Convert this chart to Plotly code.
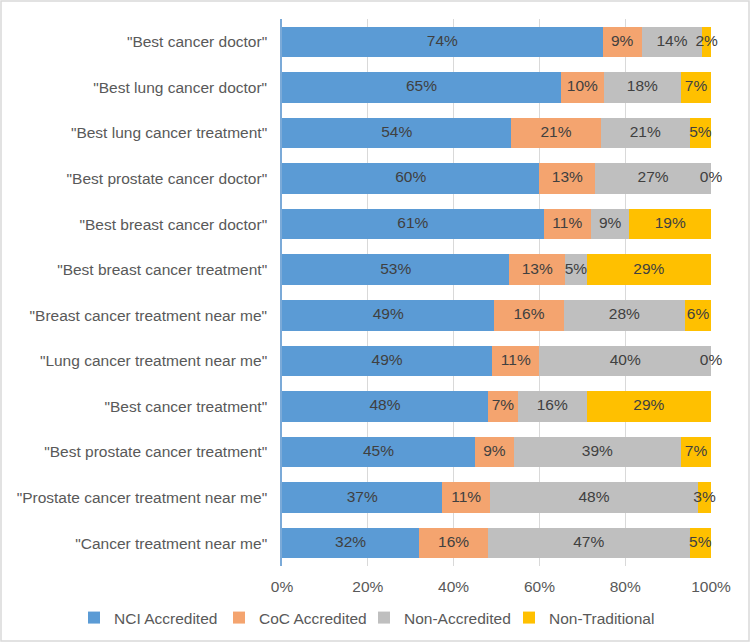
import plotly.graph_objects as go

categories = [
    '"Best cancer doctor"',
    '"Best lung cancer doctor"',
    '"Best lung cancer treatment"',
    '"Best prostate cancer doctor"',
    '"Best breast cancer doctor"',
    '"Best breast cancer treatment"',
    '"Breast cancer treatment near me"',
    '"Lung cancer treatment near me"',
    '"Best cancer treatment"',
    '"Best prostate cancer treatment"',
    '"Prostate cancer treatment near me"',
    '"Cancer treatment near me"',
]
nci = [74, 65, 54, 60, 61, 53, 49, 49, 48, 45, 37, 32]
coc = [9, 10, 21, 13, 11, 13, 16, 11, 7, 9, 11, 16]
non_acc = [14, 18, 21, 27, 9, 5, 28, 40, 16, 39, 48, 47]
non_trad = [2, 7, 5, 0, 19, 29, 6, 0, 29, 7, 3, 5]

series = [
    ("NCI Accredited", nci, "#5B9BD5"),
    ("CoC Accredited", coc, "#F4A46F"),
    ("Non-Accredited", non_acc, "#BFBFBF"),
    ("Non-Traditional", non_trad, "#FFC000"),
]
x_ticks = [0, 20, 40, 60, 80, 100]

FONT = "Liberation Sans, Arial, sans-serif"
FS = 15.5
TXT = "#404040"

W, H = 750, 642
L, R, T, B = 282, 39, 19, 76

fig = go.Figure()
for name, vals, color in series:
    fig.add_trace(go.Bar(
        y=categories, x=vals, name=name, orientation="h",
        marker=dict(color=color, line=dict(width=0)),
        hoverinfo="skip",
    ))

# data labels: centred on each (normalised) segment
lab_y, lab_x, lab_t = [], [], []
for i, cat in enumerate(categories):
    total = sum(s[1][i] for s in series)
    cum = 0
    for name, vals, color in series:
        v = vals[i]
        lab_y.append(cat)
        lab_x.append((cum + v / 2) / total * 100)
        lab_t.append(f"{v}%")
        cum += v
fig.add_trace(go.Scatter(
    y=lab_y, x=lab_x, text=lab_t, mode="text", showlegend=False,
    textposition="middle center", cliponaxis=False,
    textfont=dict(family=FONT, size=FS, color=TXT), hoverinfo="skip",
))

pw = W - L - R
ph = H - T - B
n = len(categories)
fig.update_layout(
    width=W, height=H,
    margin=dict(l=L, r=R, t=T, b=B, pad=0, autoexpand=False),
    barmode="stack", barnorm="percent", bargap=0.33,
    paper_bgcolor="white", plot_bgcolor="white",
    font=dict(family=FONT, size=FS, color="#595959"),
    xaxis=dict(
        range=[0, 100], tickvals=x_ticks, ticktext=[f"{v}%" for v in x_ticks],
        showgrid=True, gridcolor="#D9D9D9", gridwidth=1, automargin=False,
        zeroline=False, showline=False, ticks="", ticklabelstandoff=9,
        tickfont=dict(family=FONT, size=FS, color="#595959"),
        fixedrange=True,
    ),
    yaxis=dict(
        range=[n - 0.5, -0.5], showgrid=False, zeroline=False, automargin=False,
        showline=True, linecolor="#7BAAD8", linewidth=1.5,
        ticks="", ticklabelstandoff=10,
        tickfont=dict(family=FONT, size=FS, color="#595959"),
        fixedrange=True,
    ),
    legend=dict(
        orientation="h", xref="paper", yref="paper",
        x=(74 - L) / pw, xanchor="left",
        y=(H - B - 618) / ph, yanchor="middle",
        entrywidth=100, entrywidthmode="pixels",
        font=dict(family=FONT, size=FS, color="#595959"),
        traceorder="normal", itemclick=False, itemdoubleclick=False,
        bgcolor="rgba(0,0,0,0)",
    ),
    shapes=[dict(
        type="rect", xref="paper", yref="paper",
        x0=-(L - 1) / pw, x1=1 + (R - 1) / pw,
        y0=-(B - 1) / ph, y1=1 + (T - 1) / ph,
        line=dict(color="#D9D9D9", width=1.5), layer="below",
    )],
)

fig.write_html("out.html")
